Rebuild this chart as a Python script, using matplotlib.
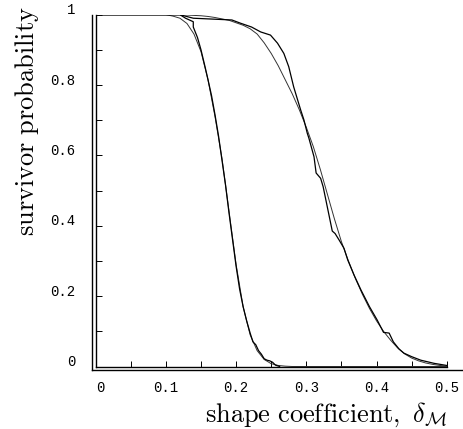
import numpy as np
import matplotlib
matplotlib.use('Agg')
import matplotlib.pyplot as plt
from matplotlib.lines import Line2D

plt.rcParams['mathtext.fontset'] = 'cm'

# fitted survivor curves
fit_x = [0.0, 0.10, 0.11, 0.12, 0.13, 0.14, 0.15, 0.16, 0.17, 0.18, 0.19,
         0.20, 0.21, 0.22, 0.23, 0.24, 0.25, 0.26, 0.27, 0.28,
         0.29, 0.30, 0.31, 0.32, 0.33, 0.34, 0.35, 0.36, 0.37, 0.38, 0.39,
         0.40, 0.41, 0.42, 0.43, 0.44, 0.45, 0.46, 0.47, 0.48, 0.49, 0.50]
fit_left = [1.0, 1.0, 0.996, 0.99, 0.975, 0.945, 0.895, 0.815, 0.71, 0.59, 0.44,
            0.29, 0.17, 0.09, 0.045, 0.02, 0.008, 0.003, 0.001, 0.0,
            0.0, 0.0, 0.0, 0.0, 0.0, 0.0, 0.0, 0.0, 0.0, 0.0, 0.0,
            0.0, 0.0, 0.0, 0.0, 0.0, 0.0, 0.0, 0.0, 0.0, 0.0, 0.0]
fit_right = [1.0, 1.0, 1.0, 1.0, 0.999, 0.998, 0.997, 0.995, 0.992, 0.988, 0.984,
             0.977, 0.97, 0.96, 0.945, 0.92, 0.89, 0.855, 0.815, 0.775,
             0.73, 0.68, 0.625, 0.56, 0.49, 0.42, 0.355, 0.30, 0.25, 0.205, 0.165,
             0.13, 0.10, 0.075, 0.053, 0.036, 0.024, 0.016, 0.010, 0.006, 0.003, 0.001]

# empirical survivor curves
emp_left_x = [0.0, 0.12, 0.128, 0.139, 0.139, 0.145, 0.15, 0.156, 0.16, 0.165,
              0.17, 0.175, 0.18, 0.185, 0.19, 0.195, 0.20, 0.205, 0.21, 0.215,
              0.22, 0.224, 0.228, 0.232, 0.236, 0.24, 0.244, 0.248, 0.252,
              0.256, 0.262]
emp_left_y = [1.0, 1.0, 0.99, 0.98, 0.965, 0.935, 0.90, 0.85, 0.815, 0.77,
              0.715, 0.655, 0.585, 0.515, 0.435, 0.36, 0.285, 0.22, 0.17, 0.13,
              0.095, 0.07, 0.062, 0.045, 0.035, 0.022, 0.018, 0.016, 0.012,
              0.004, 0.0]

emp_right_x = [0.0, 0.12, 0.139, 0.194, 0.206, 0.222, 0.235, 0.249, 0.259, 0.268,
               0.275, 0.282, 0.292, 0.2966, 0.3014, 0.3037, 0.311, 0.314, 0.3204,
               0.324, 0.337, 0.341, 0.3466, 0.3537, 0.359, 0.368, 0.378, 0.39,
               0.401, 0.41, 0.418, 0.424, 0.432, 0.439, 0.45, 0.463, 0.482, 0.50]
emp_right_y = [1.0, 1.0, 0.99, 0.985, 0.976, 0.965, 0.951, 0.942, 0.919, 0.89,
               0.852, 0.795, 0.729, 0.701, 0.663, 0.649, 0.596, 0.55, 0.535,
               0.511, 0.385, 0.378, 0.36, 0.336, 0.303, 0.26, 0.217, 0.17,
               0.132, 0.097, 0.095, 0.07, 0.05, 0.038, 0.028, 0.018, 0.009, 0.003]

x_ticks = [0.05, 0.1, 0.15, 0.2, 0.25, 0.3, 0.35, 0.4, 0.45, 0.5]
x_labels = [0.0, 0.1, 0.2, 0.3, 0.4, 0.5]
y_ticks = [0.1, 0.2, 0.3, 0.4, 0.5, 0.6, 0.7, 0.8, 0.9, 1.0]
y_labels = [0.0, 0.2, 0.4, 0.6, 0.8, 1.0]

W, H = 464, 429
fig = plt.figure(figsize=(W / 100, H / 100), dpi=100)
ax = fig.add_axes([95.7 / W, (H - 366.5) / H, 351 / W, 351.8 / H])
ax.set_xlim(0, 0.5)
ax.set_ylim(0, 1)

ax.plot(fit_x, fit_left, color='#333333', lw=0.7)
ax.plot(fit_x, fit_right, color='#333333', lw=0.7)
ax.plot(emp_left_x, emp_left_y, color='black', lw=0.9)
ax.plot(emp_right_x, emp_right_y, color='black', lw=0.9)

for s in ['top', 'right']:
    ax.spines[s].set_visible(False)
for s in ['left', 'bottom']:
    ax.spines[s].set_linewidth(1.0)

ax.set_xticks(x_ticks)
ax.set_yticks(y_ticks)
ax.tick_params(direction='in', length=4.2, width=0.7, labelbottom=False, labelleft=False)

mono = 'Liberation Mono'
for v in x_labels:
    lab = '0' if v == 0 else f'{v:.1f}'
    dx = 5 if v == 0 else 0
    ax.annotate(lab, (v, 0), xycoords='data', xytext=(dx * 0.72, -21.5 * 0.72),
                textcoords='offset points', ha='center', va='center',
                family=mono, fontsize=10)
for v in y_labels:
    lab = '0' if v == 0 else ('1' if v == 1 else f'{v:.1f}')
    ax.annotate(lab, (0, v), xycoords='data', xytext=(-20.7 * 0.72, 4.5 * 0.72),
                textcoords='offset points', ha='right', va='center',
                family=mono, fontsize=10)

# outer frame lines on the left and bottom
fig.add_artist(Line2D([92.3 / W, 92.3 / W], [1 - 15 / H, 1 - 369.7 / H],
                      transform=fig.transFigure, color='black', lw=1.0))
fig.add_artist(Line2D([92.3 / W, 1.0], [1 - 369.7 / H, 1 - 369.7 / H],
                      transform=fig.transFigure, color='black', lw=1.0))

fig.text(326 / W, 1 - 421.5 / H, r'$\mathrm{shape\ coefficient,}\ \delta_{\mathcal{M}}$',
         ha='center', va='baseline', fontsize=19)
fig.text(27 / W, 1 - 121 / H, r'$\mathrm{survivor\ probability}$',
         ha='center', va='center', rotation=90, fontsize=19)

fig.savefig('out.png', dpi=100)
